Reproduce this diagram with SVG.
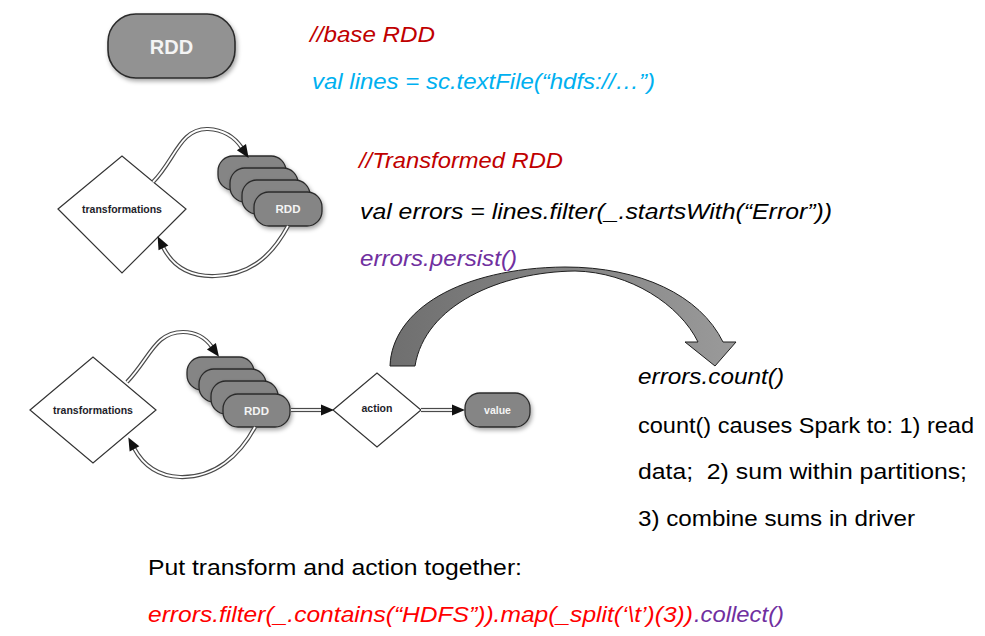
<svg xmlns="http://www.w3.org/2000/svg" xmlns:xlink="http://www.w3.org/1999/xlink" width="985" height="636" viewBox="0 0 985 636">
<defs>
<style>
.pill{fill:#858585;stroke:#2b2b2b;stroke-width:1.3;filter:url(#sh)}
.base{fill:#929292;stroke:#2b2b2b;stroke-width:1.6;filter:url(#sh)}
.dia{fill:#fff;stroke:#333;stroke-width:1.2}
.lbl{font-family:"Liberation Sans",Arial,sans-serif;font-weight:bold;font-size:10.5px;fill:#1e1e2a;text-anchor:middle}
.wl{font-family:"Liberation Sans",Arial,sans-serif;font-weight:bold;font-size:11.5px;fill:#f4f4f4;text-anchor:middle}
.outer{fill:none;stroke:#4a4a4a;stroke-width:4.2}
.inner{fill:none;stroke:#fff;stroke-width:1.8}
.t{font-family:"Liberation Sans",Arial,sans-serif;font-size:22px}
.i{font-style:italic}
</style>
<filter id="sh" x="-20%" y="-20%" width="150%" height="160%">
<feDropShadow dx="1.5" dy="2.5" stdDeviation="2" flood-color="#000" flood-opacity="0.35"/>
</filter>
<path id="tri" d="M-1,-5.5 L12,0 L-1,5.5 Z" fill="#111"/>
<linearGradient id="bg" x1="0" y1="0" x2="1" y2="0">
<stop offset="0" stop-color="#6f6f6f"/>
<stop offset="1" stop-color="#9a9a9a"/>
</linearGradient>
</defs>

<g id="base-rdd">
<rect class="base" x="108" y="14" width="127" height="64" rx="28"/>
<text class="wl" x="171.5" y="54" style="font-size:20px">RDD</text>
</g>

<g id="transformations-1">
<polygon class="dia" points="58,209 122,156 186,209 122,273"/>
<text class="lbl" x="122" y="213">transformations</text>
</g>
<g id="rdd-stack-1">
<rect class="pill" x="218" y="156" width="68" height="34" rx="15"/>
<rect class="pill" x="230" y="168" width="68" height="34" rx="15"/>
<rect class="pill" x="242" y="180" width="68" height="34" rx="15"/>
<rect class="pill" x="254" y="192" width="68" height="34" rx="15"/>
<text class="wl" x="288" y="213">RDD</text>
</g>

<g id="transformations-2">
<polygon class="dia" points="30,410 93,357 156,410 93,463"/>
<text class="lbl" x="93" y="414">transformations</text>
</g>
<g id="rdd-stack-2">
<rect class="pill" x="187" y="357" width="67" height="33" rx="15"/>
<rect class="pill" x="199" y="369" width="67" height="33" rx="15"/>
<rect class="pill" x="211" y="381" width="67" height="33" rx="15"/>
<rect class="pill" x="223" y="394" width="67" height="33" rx="15"/>
<text class="wl" x="256.5" y="414.5">RDD</text>
</g>
<g id="action">
<polygon class="dia" points="333,410 377,373 421,410 377,447"/>
<text class="lbl" x="377" y="412">action</text>
</g>
<g id="value">
<rect class="pill" x="465" y="393" width="65" height="34" rx="15"/>
<text class="wl" x="497.5" y="414" style="font-size:10.5px">value</text>
</g>

<g id="connectors">
<path class="outer" d="M153,182 C175,160 180,128 208,129 C227,130 236,139 242,148"/>
<path class="inner" d="M153,182 C175,160 180,128 208,129 C227,130 236,139 242,148"/>
<use href="#tri" xlink:href="#tri" transform="translate(242,148) rotate(56.3)"/>
<path class="outer" d="M288,226 C275,250 255,275 215,276 C185,277 171,263 163,247"/>
<path class="inner" d="M288,226 C275,250 255,275 215,276 C185,277 171,263 163,247"/>
<use href="#tri" xlink:href="#tri" transform="translate(163,247) rotate(-116.6)"/>
<path class="outer" d="M127,382 C150,358 155,332 183,332 C199,332 207,340 212,347"/>
<path class="inner" d="M127,382 C150,358 155,332 183,332 C199,332 207,340 212,347"/>
<use href="#tri" xlink:href="#tri" transform="translate(212,347) rotate(54.5)"/>
<path class="outer" d="M255,427 C240,455 215,478 180,477 C155,476 142,463 134,448"/>
<path class="inner" d="M255,427 C240,455 215,478 180,477 C155,476 142,463 134,448"/>
<use href="#tri" xlink:href="#tri" transform="translate(134,448) rotate(-118.1)"/>
<path class="outer" d="M291,410 L322,410"/>
<path class="inner" d="M291,410 L322,410"/>
<use href="#tri" xlink:href="#tri" transform="translate(322,410)"/>
<path class="outer" d="M421,410 L453,410"/>
<path class="inner" d="M421,410 L453,410"/>
<use href="#tri" xlink:href="#tri" transform="translate(453,410)"/>
<path id="big-arrow" d="M390,366 C392,310 460,268 565,267 C640,267 700,295 723,342 L736,342 L715,366 L685,342 L698,342 C680,305 630,272 575,271 C500,272 425,305 415,366 Z" fill="url(#bg)" stroke="#1e1e1e" stroke-width="1"/>
</g>

<g id="texts">
<text class="t i" x="310" y="42" fill="#c00000" textLength="125" lengthAdjust="spacingAndGlyphs">//base RDD</text>
<text class="t i" x="312" y="89" fill="#00b0f0" textLength="343" lengthAdjust="spacingAndGlyphs">val lines = sc.textFile(“hdfs://…”)</text>
<text class="t i" x="359" y="168" fill="#c00000" textLength="204" lengthAdjust="spacingAndGlyphs">//Transformed RDD</text>
<text class="t i" x="360" y="219" fill="#000" textLength="472" lengthAdjust="spacingAndGlyphs">val errors = lines.filter(_.startsWith(“Error”))</text>
<text class="t i" x="360" y="266" fill="#7030a0" textLength="157" lengthAdjust="spacingAndGlyphs">errors.persist()</text>
<text class="t i" x="638" y="384" fill="#000" textLength="146" lengthAdjust="spacingAndGlyphs">errors.count()</text>
<text class="t" x="638" y="433" fill="#000" textLength="336" lengthAdjust="spacingAndGlyphs">count() causes Spark to: 1) read</text>
<text class="t" x="638" y="479" fill="#000" textLength="329" lengthAdjust="spacingAndGlyphs" xml:space="preserve">data;  2) sum within partitions;</text>
<text class="t" x="638" y="526" fill="#000" textLength="277" lengthAdjust="spacingAndGlyphs">3) combine sums in driver</text>
<text class="t" x="148" y="575" fill="#000" textLength="374" lengthAdjust="spacingAndGlyphs">Put transform and action together:</text>
<text class="t i" x="148" y="622" fill="#ff0000" textLength="545" lengthAdjust="spacingAndGlyphs">errors.filter(_.contains(“HDFS”)).map(_split(‘\t’)(3))</text>
<text class="t i" x="694" y="622" fill="#7030a0" textLength="90" lengthAdjust="spacingAndGlyphs">.collect()</text>
</g>
</svg>
